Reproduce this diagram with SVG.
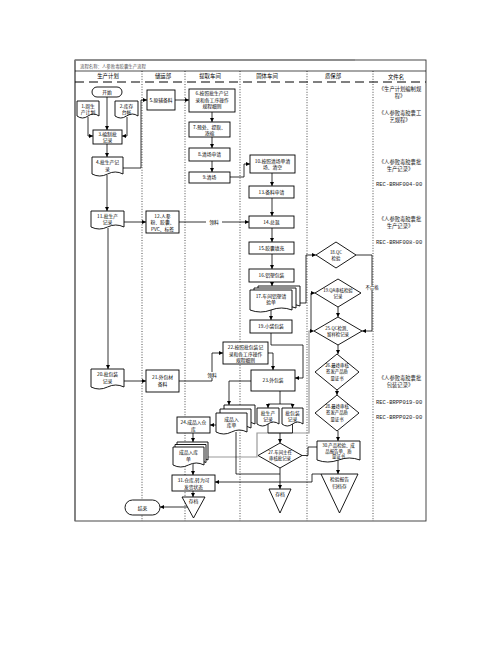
<svg xmlns="http://www.w3.org/2000/svg" width="502" height="649" viewBox="0 0 502 649">
<style>
.box{fill:#fff;stroke:#000;stroke-width:0.9}
.t{font-family:"Noto Sans CJK SC","Liberation Sans",sans-serif;font-size:4.8px;text-anchor:middle;fill:#000}
.s{font-size:4.4px}
.h{font-family:"Noto Sans CJK SC","Liberation Sans",sans-serif;font-size:5.4px;text-anchor:middle;fill:#000}
.r{font-family:"Noto Sans CJK SC","Liberation Sans",sans-serif;font-size:5.3px;text-anchor:middle;fill:#222}
.rec{font-family:"Liberation Mono","DejaVu Sans Mono",monospace;font-size:5.5px;fill:#222}
.ln{fill:none;stroke:#000;stroke-width:0.8}
.a{marker-end:url(#ah)}
.g{fill:none;stroke:#9a9a9a;stroke-width:1.2;marker-end:url(#ahg)}
.dot{stroke:#000;stroke-width:0.7;stroke-dasharray:1 1.6}
</style>
<defs>
<marker id="ah" viewBox="0 0 6 6" refX="6" refY="3" markerWidth="4" markerHeight="4" markerUnits="userSpaceOnUse" orient="auto"><path d="M0,0 L6,3 L0,6 z" fill="#000"/></marker>
<marker id="ahg" viewBox="0 0 6 6" refX="6" refY="3" markerWidth="4" markerHeight="4" markerUnits="userSpaceOnUse" orient="auto"><path d="M0,0 L6,3 L0,6 z" fill="#000"/></marker>
</defs>
<rect width="502" height="649" fill="#fff"/>

<g id="frame">
<rect x="75" y="60" width="351" height="461" fill="none" stroke="#333" stroke-width="0.9"/>
<line x1="75" y1="60" x2="355" y2="60" stroke="#888" stroke-width="1.6"/>
<line x1="75" y1="60" x2="75" y2="521" stroke="#777" stroke-width="1.4"/>
<line x1="75" y1="71" x2="426" y2="71" stroke="#000" stroke-width="0.7"/>
<line x1="75" y1="82" x2="426" y2="82" stroke="#000" stroke-width="1" stroke-dasharray="9 5"/>
<line class="dot" x1="142" y1="71" x2="142" y2="521"/>
<line class="dot" x1="185" y1="71" x2="185" y2="521"/>
<line class="dot" x1="240" y1="71" x2="240" y2="521"/>
<line class="dot" x1="307" y1="71" x2="307" y2="521"/>
<line class="dot" x1="373" y1="71" x2="373" y2="521"/>
<text x="80" y="67.5" font-family="Noto Sans CJK SC, Liberation Sans, sans-serif" font-size="4.4" fill="#555">流程名称：人参败毒胶囊生产流程</text>
<text class="h" x="108" y="78">生产计划</text>
<text class="h" x="163" y="78">储运部</text>
<text class="h" x="210" y="78">提取车间</text>
<text class="h" x="267" y="78">固体车间</text>
<text class="h" x="333" y="78">质保部</text>
<text class="h" x="396" y="79">文件名</text>
</g>

<g id="filetexts">
<text class="r" x="400" y="91">《生产计划编制规</text>
<text class="r" x="400" y="98">程》</text>
<text class="r" x="400" y="115">《人参败毒胶囊工</text>
<text class="r" x="400" y="122">艺规程》</text>
<text class="r" x="400" y="164">《人参败毒胶囊批</text>
<text class="r" x="400" y="171">生产记录》</text>
<text class="rec" x="376" y="186">REC-BRHF004-00</text>
<text class="r" x="400" y="221">《人参败毒胶囊批</text>
<text class="r" x="400" y="228">生产记录》</text>
<text class="rec" x="376" y="244">REC-BRHF008-00</text>
<text class="r" x="400" y="380">《人参败毒胶囊批</text>
<text class="r" x="400" y="387">包装记录》</text>
<text class="rec" x="376" y="404">REC-BRPP019-00</text>
<text class="rec" x="376" y="419">REC-BRPP020-00</text>
</g>

<g id="connectors">
<path class="ln a" d="M107,97 V130"/>
<path class="ln a" d="M88,117 V136 H93"/>
<path class="ln a" d="M127,117 V136 H122"/>
<path class="ln a" d="M107,144 V157"/>
<path class="ln a" d="M123,168 H141 V100 H147"/>
<path class="ln a" d="M175,100 H189"/>
<path class="ln a" d="M212,112 V122"/>
<path class="ln a" d="M212,137 V148"/>
<path class="ln a" d="M212,161 V172"/>
<path class="ln a" d="M230,177 H244 V164 H250"/>
<path class="ln a" d="M272,173 V186"/>
<path class="ln a" d="M272,198 V216"/>
<path class="ln a" d="M272,228 V242"/>
<path class="ln a" d="M272,254 V269"/>
<path class="ln a" d="M272,282 V286"/>
<path class="ln a" d="M107,175 V211"/>
<path class="ln a" d="M124,222 H146"/>
<path class="ln a" d="M179,222 H249"/>
<path class="ln a" d="M108,228 V369"/>
<path class="ln a" d="M124,381 H146"/>
<path class="ln a" d="M179,381 H212 V353 H223"/>
<path class="ln a" d="M268,353 H273 V370"/>
<path class="ln a" d="M271,309 V320"/>
<path class="ln a" d="M300,303 H306 V255 H316"/>
<path class="ln a" d="M356,255 H372 V331 H362"/>
<path class="ln a" d="M338,307 V317"/>
<path class="g" d="M208,457 H257 V433 H309 V331 H314"/>
<path class="ln a" d="M311,331 V293 H315"/>
<path class="ln a" d="M338,345 V354"/>
<path class="ln a" d="M337,390 V395"/>
<path class="ln a" d="M338,431 V441"/>
<path class="ln a" d="M338,460 V474"/>
<path class="ln a" d="M271,333 V345 H303 V378 H295"/>
<path class="ln a" d="M251,381 H229 V405"/>
<path class="ln a" d="M216,425 H210"/>
<path class="ln a" d="M193,433 V442"/>
<path class="ln a" d="M193,464 V475"/>
<path class="ln a" d="M193,491 V497"/>
<path class="ln a" d="M188,507 H160"/>
<path class="ln" d="M280,391 V404 M268,404 H292.5"/>
<path class="ln a" d="M268,404 V408"/>
<path class="ln a" d="M292.5,404 V408"/>
<path class="ln" d="M268,424 V433 H292.5 V424"/>
<path class="ln a" d="M280,433 V443"/>
<path class="ln a" d="M280,468 V489"/>
<path class="ln" d="M236,432 V474 H280"/>
<path class="ln" d="M302,455.5 H308 V447 H317"/>
<path class="ln a" d="M321,474 H312 V482 H215"/>
<rect x="206" y="219" width="16" height="6" fill="#fff"/>
<text class="t" x="214" y="223.8">领料</text>
<rect x="204" y="372" width="16" height="6" fill="#fff"/>
<text class="t" x="212" y="376.8">领料</text>
<rect x="367" y="285" width="10" height="5" fill="#fff"/>
<text class="t s" x="372" y="289" font-size="3.8">不合格</text>
</g>

<g id="start"><rect class="box" x="92" y="87" width="30" height="10" rx="5"/><text class="t" x="107" y="93.8">开始</text></g>
<g id="n1"><path class="box" d="M77,101 H99 V116 Q93.5,112 88,116 T77,116 Z"/><text class="t" x="88" y="107.5">1.周生</text><text class="t" x="88" y="113.5">产计划</text></g>
<g id="n2"><path class="box" d="M115,101 H138 V116 Q132.25,112 126.5,116 T115,116 Z"/><text class="t" x="126.5" y="107.5">2.库存</text><text class="t" x="126.5" y="113.5">台帐</text></g>
<g id="n3"><rect class="box" x="93" y="130" width="29" height="14"/><text class="t" x="107.5" y="136">3.编制批</text><text class="t" x="107.5" y="142">记录</text></g>
<g id="n4"><path class="box" d="M92,157 H123 V174 Q115.25,170 107.5,174 T92,174 Z"/><text class="t" x="107.5" y="164">4.批生产记</text><text class="t" x="107.5" y="170.5">录</text></g>
<g id="n5"><rect class="box" x="147" y="90" width="28" height="20"/><text class="t" x="161" y="101.5">5.原辅备料</text></g>
<g id="n6"><rect class="box" x="189" y="89" width="46" height="23"/><text class="t" x="212" y="95">6.按照批生产记</text><text class="t" x="212" y="101.5">录和各工序操作</text><text class="t" x="212" y="108">规程细则</text></g>
<g id="n7"><rect class="box" x="189" y="122" width="41" height="15"/><text class="t" x="209.5" y="128.5">7.预处、提取、</text><text class="t" x="209.5" y="134.5">浓缩</text></g>
<g id="n8"><rect class="box" x="189" y="148" width="41" height="13"/><text class="t" x="209.5" y="156">8.清场申请</text></g>
<g id="n9"><rect class="box" x="189" y="172" width="41" height="11"/><text class="t" x="209.5" y="179.3">9.清场</text></g>
<g id="n10"><rect class="box" x="250" y="155" width="45" height="18"/><text class="t" x="272.5" y="162.5">10.按照清场单清</text><text class="t" x="272.5" y="169">场、清空</text></g>
<g id="n11"><path class="box" d="M91,211 H124 V227 Q115.75,223 107.5,227 T91,227 Z"/><text class="t" x="107.5" y="217.5">11.批生产</text><text class="t" x="107.5" y="223.5">记录</text></g>
<g id="n12"><rect class="box" x="146" y="211" width="33" height="22"/><text class="t" x="162.5" y="217.5">12.人参</text><text class="t" x="162.5" y="224">粉、胶囊、</text><text class="t" x="162.5" y="230.5">PVC、标签</text></g>
<g id="n13"><rect class="box" x="249" y="186" width="45" height="12"/><text class="t" x="271.5" y="193.6">13.备料申请</text></g>
<g id="n14"><rect class="box" x="249" y="216" width="45" height="12"/><text class="t" x="271.5" y="223.6">14.总混</text></g>
<g id="n15"><rect class="box" x="249" y="242" width="45" height="12"/><text class="t" x="271.5" y="249.6">15.胶囊填充</text></g>
<g id="n16"><rect class="box" x="249" y="269" width="45" height="13"/><text class="t" x="271.5" y="277">16.铝塑包装</text></g>
<g id="n17">
<path class="box" d="M258,286 H300 V306 Q289.5,302 279,306 T258,306 Z"/>
<path class="box" d="M254,288 H296 V308 Q285.5,304 275,308 T254,308 Z"/>
<path class="box" d="M250,290 H292 V310 Q281.5,306 271,310 T250,310 Z"/>
<text class="t" x="271" y="297.5">17.车间铝塑请</text><text class="t" x="271" y="304">验单</text></g>
<g id="n18"><polygon class="box" points="316,255 336,242 356,255 336,268"/><text class="t s" x="336" y="253.5">18.QC</text><text class="t s" x="336" y="260">检验</text></g>
<g id="n19q"><polygon class="box" points="315,293 338,279 361,293 338,307"/><text class="t s" x="338" y="291.5">19.QA审核检验</text><text class="t s" x="338" y="298">记录</text></g>
<g id="n19"><rect class="box" x="250" y="320" width="42" height="13"/><text class="t" x="271" y="328">19.小袋包装</text></g>
<g id="n25"><polygon class="box" points="314,331 338,317 362,331 338,345"/><text class="t s" x="338" y="329.5">25.QC检测、</text><text class="t s" x="338" y="336">留样检记录</text></g>
<g id="n20"><path class="box" d="M91,369 H124 V387 Q115.75,383 107.5,387 T91,387 Z"/><text class="t" x="107.5" y="376">20.批包装</text><text class="t" x="107.5" y="382.5">记录</text></g>
<g id="n21"><rect class="box" x="146" y="370" width="33" height="22"/><text class="t" x="162.5" y="379">21.外包材</text><text class="t" x="162.5" y="386">备料</text></g>
<g id="n22"><rect class="box" x="223" y="342" width="45" height="22"/><text class="t" x="245.5" y="349">22.按照批包装记</text><text class="t" x="245.5" y="355.5">录和各工序操作</text><text class="t" x="245.5" y="362">规程细则</text></g>
<g id="n23"><rect class="box" x="251" y="370" width="44" height="21"/><text class="t" x="273" y="382">23.外包装</text></g>
<g id="n26"><polygon class="box" points="315,372 337,354 359,372 337,390"/><text class="t s" x="337" y="366.5">26.最终审核</text><text class="t s" x="337" y="373">签发产品质</text><text class="t s" x="337" y="379.5">量证书</text></g>
<g id="n28"><polygon class="box" points="315,413 337,395 359,413 337,431"/><text class="t s" x="337" y="407.5">28.最终审核</text><text class="t s" x="337" y="414">签发产品质</text><text class="t s" x="337" y="420.5">量证书</text></g>
<g id="rkA">
<path class="box" d="M224,405 H255 V424 Q247.25,420 239.5,424 T224,424 Z"/>
<path class="box" d="M220,409 H251 V428 Q243.25,424 235.5,428 T220,428 Z"/>
<path class="box" d="M216,413 H247 V432 Q239.25,428 231.5,432 T216,432 Z"/>
<text class="t" x="231.5" y="420.5">成品入</text><text class="t" x="231.5" y="427">库单</text></g>
<g id="n24"><rect class="box" x="177" y="417" width="33" height="16"/><text class="t" x="193.5" y="424">24.成品入仓</text><text class="t" x="193.5" y="430.5">库</text></g>
<g id="pscjl"><path class="box" d="M257,408 H279 V424 Q273.5,420 268,424 T257,424 Z"/><text class="t" x="268" y="414.5">批生产</text><text class="t" x="268" y="421">记录</text></g>
<g id="pbzjl"><path class="box" d="M282,408 H303 V424 Q297.75,420 292.5,424 T282,424 Z"/><text class="t" x="292.5" y="414.5">批包装</text><text class="t" x="292.5" y="421">记录</text></g>
<g id="rkB">
<path class="box" d="M177,442 H208 V460 Q200.25,456 192.5,460 T177,460 Z"/>
<path class="box" d="M175,444.5 H206 V462.5 Q198.25,458.5 190.5,462.5 T175,462.5 Z"/>
<path class="box" d="M173,447 H204 V465 Q196.25,461 188.5,465 T173,465 Z"/>
<text class="t" x="188.5" y="454">成品入库</text><text class="t" x="188.5" y="460.5">单</text></g>
<g id="n27"><polygon class="box" points="258,455.5 280,443 302,455.5 280,468"/><text class="t s" x="280" y="454">27.车间主任</text><text class="t s" x="280" y="460">审核批记录</text></g>
<g id="n30"><path class="box" d="M317,441 H360 V460 Q349.25,456 338.5,460 T317,460 Z"/><text class="t s" x="338.5" y="447">30.产品检验、成</text><text class="t s" x="338.5" y="452.5">品报告单、质</text><text class="t s" x="338.5" y="458">量证书</text></g>
<g id="n31"><rect class="box" x="172" y="475" width="43" height="16"/><text class="t" x="193.5" y="482">31.仓库,转为可</text><text class="t" x="193.5" y="488.5">发货状态</text></g>
<g id="t1"><polygon class="box" points="182,497 205,497 193.5,518"/><text class="t" x="193.5" y="503">存档</text></g>
<g id="t2"><polygon class="box" points="269,489 291,489 280,513"/><text class="t" x="280" y="495.5">存档</text></g>
<g id="t3"><polygon class="box" points="321,474 358,474 339.5,513"/><text class="t" x="339.5" y="481">检验报告</text><text class="t" x="339.5" y="487.5">归档存</text></g>
<g id="end"><rect class="box" x="125" y="500" width="35" height="15" rx="7.5"/><text class="t" x="142.5" y="509.5">结束</text></g>
</svg>
